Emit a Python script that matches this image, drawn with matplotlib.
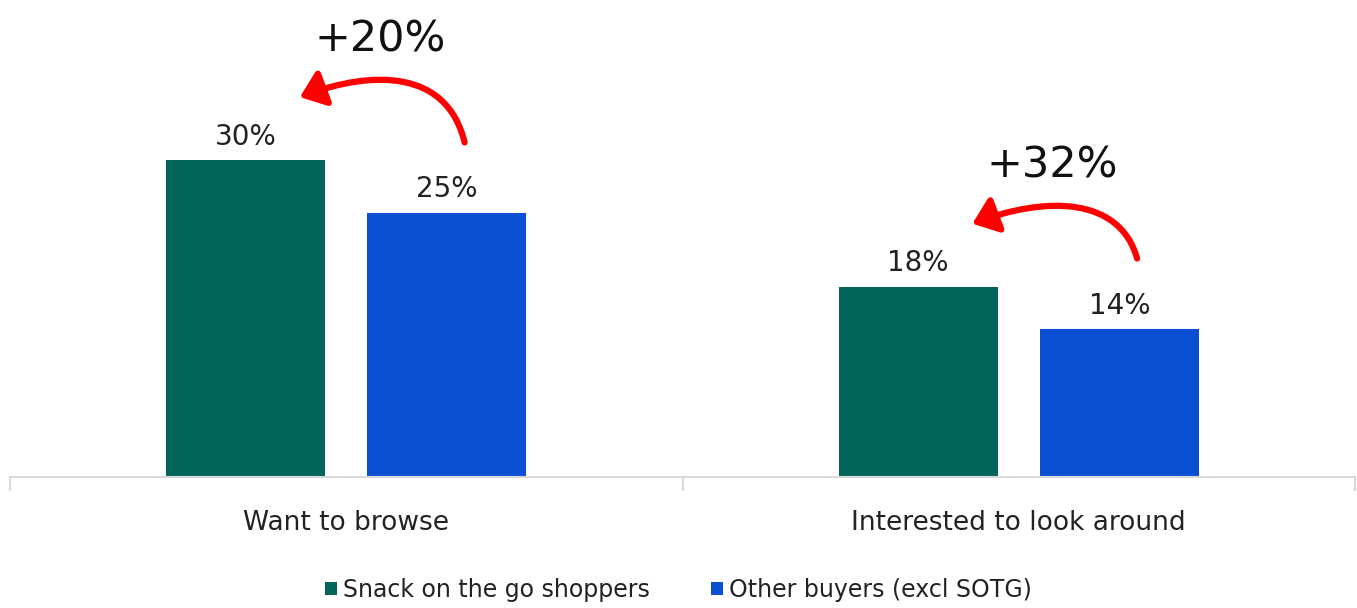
import matplotlib
matplotlib.use("Agg")
import matplotlib.pyplot as plt
from matplotlib.patches import FancyArrowPatch
from matplotlib.path import Path
import numpy as np

categories = ["Want to browse", "Interested to look around"]
series_names = ["Snack on the go shoppers", "Other buyers (excl SOTG)"]
sotg = [30, 18]
other = [25, 14]
uplift_labels = ["+20%", "+32%"]
colors = ["#03655A", "#0B50D2"]

plt.rcParams['font.family'] = ['DejaVu Sans']

fig = plt.figure(figsize=(13.57, 6.08), dpi=100)
ax = fig.add_axes([10/1357, 1-477/608, 1345/1357, 477/608])

x = np.arange(len(categories))
w = 0.236
off = 0.1495
b1 = ax.bar(x - off, sotg, w, color=colors[0], label=series_names[0])
b2 = ax.bar(x + off, other, w, color=colors[1], label=series_names[1])

for bars, vals in ((b1, sotg), (b2, other)):
    for rect, v in zip(bars, vals):
        ax.annotate(f"{v}%", (rect.get_x() + rect.get_width()/2, v),
                    xytext=(0, 7), textcoords="offset points",
                    ha="center", va="bottom", fontsize=20, color="#222222")

ax.set_xlim(-0.5, 1.5)
ax.set_ylim(0, 45.2)
ax.set_yticks([])
for s in ("top", "right", "left"):
    ax.spines[s].set_visible(False)
ax.spines["bottom"].set_color("#d9d9d9")
ax.spines["bottom"].set_linewidth(1.5)
ax.set_xticks([-0.5, 0.5, 1.5])
ax.set_xticklabels([])
ax.tick_params(axis="x", length=10, color="#d9d9d9", width=1.5)
for xi, c in zip(x, categories):
    ax.annotate(c, (xi, 0), xytext=(0, -24), textcoords="offset points",
                ha="center", va="top", fontsize=19, color="#222222",
                annotation_clip=False)

# uplift arrows from blue bar to green bar
for i, (lab, vs, vo) in enumerate(zip(uplift_labels, sotg, other)):
    p0 = (i + 0.176, vo + 6.7)
    p1 = (i + 0.15, vs + 8.6)
    p2 = (i + 0.04, vs + 8.6)
    p3 = (i - 0.069, vs + 6.0)
    path = Path([p0, p1, p2, p3],
                [Path.MOVETO, Path.CURVE4, Path.CURVE4, Path.CURVE4])
    arr = FancyArrowPatch(path=path,
                          arrowstyle="-|>,head_length=9,head_width=7",
                          color="#FF0000", lw=4.5, mutation_scale=1.6,
                          shrinkA=0, shrinkB=0)
    ax.add_patch(arr)
    ax.text(i + 0.05, vs + 11.5, lab, ha="center", va="center",
            fontsize=31, color="#111111")

leg = fig.legend(loc="center", bbox_to_anchor=(0.5, 1-590/608), ncol=2,
                 frameon=False, fontsize=17, handlelength=0.5,
                 handleheight=0.5, handletextpad=0.25, columnspacing=2.6)
for t in leg.get_texts():
    t.set_color("#222222")

fig.savefig("out.png", dpi=100)
